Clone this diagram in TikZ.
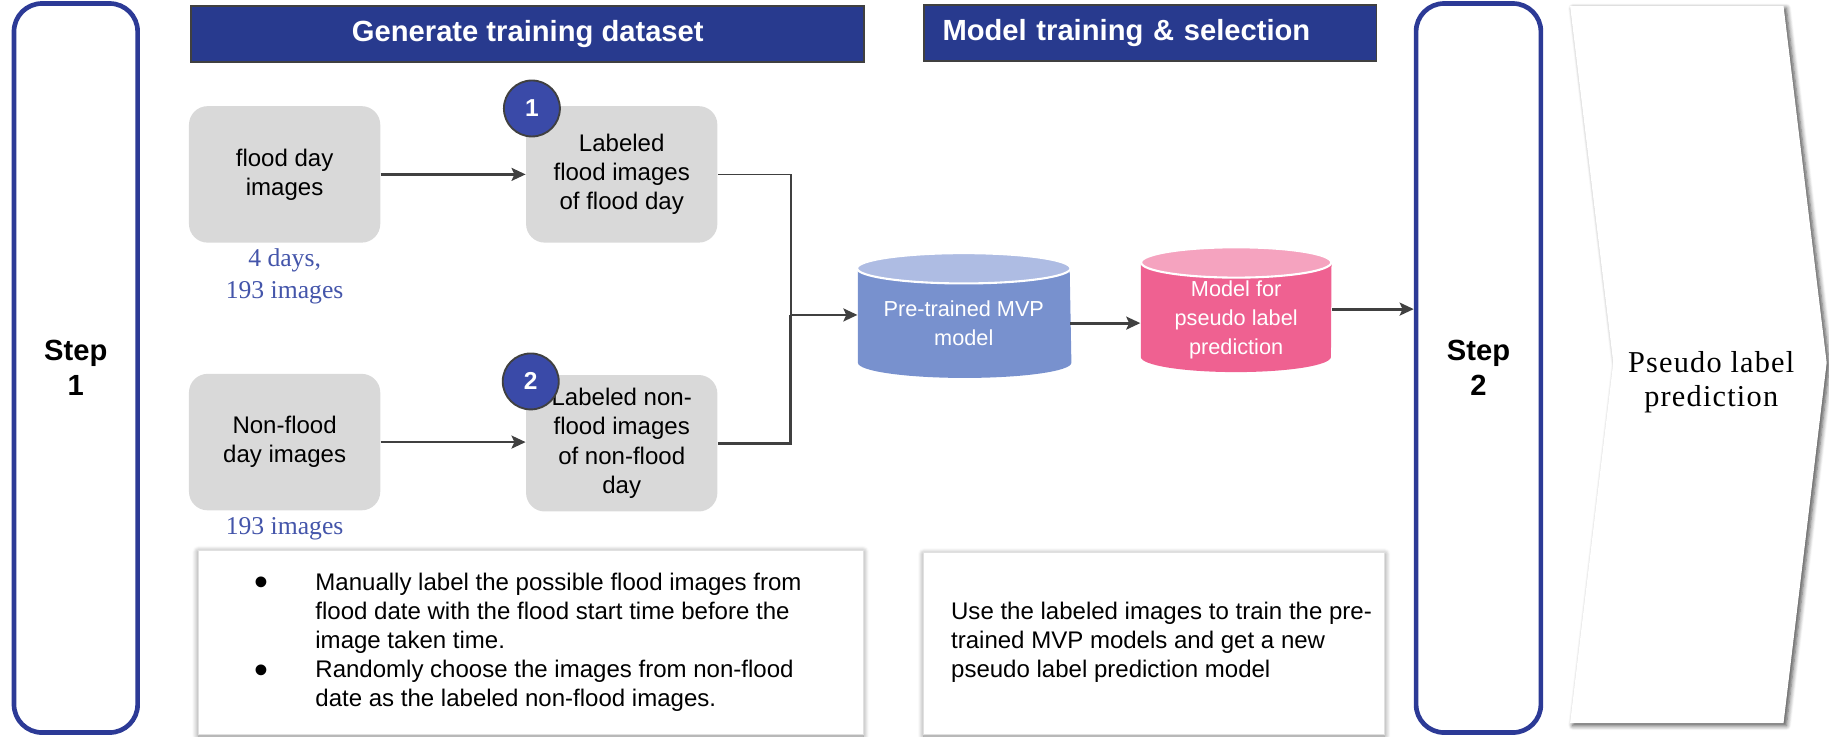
\documentclass[tikz,border=0pt]{standalone}
\usepackage{fontspec}
\setmainfont{Liberation Sans}
\newfontfamily\serifx{Liberation Serif}
\newfontfamily\spacedserif[LetterSpace=4]{Liberation Serif}
\usetikzlibrary{arrows.meta,shadows.blur,calc}
\definecolor{navy}{RGB}{40,58,142}
\definecolor{stepblue}{RGB}{44,58,150}
\definecolor{circblue}{RGB}{58,74,168}
\definecolor{boxgray}{RGB}{217,217,217}
\definecolor{arrgray}{RGB}{64,64,64}
\definecolor{txtblue}{RGB}{68,85,170}
\definecolor{cylbody}{RGB}{120,145,206}
\definecolor{cyltop}{RGB}{174,188,227}
\definecolor{pinkbody}{RGB}{239,97,145}
\definecolor{pinktop}{RGB}{245,163,191}
\newcommand{\bigbul}{\raisebox{-2.4pt}{\fontsize{17}{12}\selectfont\textbullet}}
\begin{document}
\begin{tikzpicture}[x=0.5pt,y=-0.5pt,
 stepbox/.style={draw=stepblue, line width=2pt, rounded corners=12pt, fill=white, minimum width=53pt, minimum height=312.5pt, font=\bfseries\fontsize{12.5}{15}\selectfont, align=center},
 header/.style={draw=arrgray, line width=0.8pt, fill=navy, text=white, font=\bfseries\fontsize{12.5}{15}\selectfont, minimum height=24pt},
 graybox/.style={fill=boxgray, rounded corners=8pt, minimum width=82pt, minimum height=58.5pt, align=center, font=\fontsize{10.3}{12.5}\selectfont, inner sep=2pt},
 numcirc/.style={circle, fill=circblue, draw=arrgray, line width=0.8pt, minimum size=24pt, inner sep=0pt, text=white, font=\bfseries\fontsize{10.5}{12}\selectfont},
 bluenote/.style={text=txtblue, font=\serifx\fontsize{11}{13.5}\selectfont, align=center},
 arr/.style={draw=arrgray, line width=1.2pt, -{Stealth[length=6pt,width=5.5pt,inset=1.2pt]}},
 conn/.style={draw=arrgray, line width=1.2pt},
 notebox/.style={fill=white, draw=black!12, line width=0.4pt, blur shadow={shadow xshift=0pt, shadow yshift=-0.5pt, shadow blur radius=2.5pt, shadow blur steps=8, shadow opacity=50}},
 notetext/.style={font=\fontsize{10.3}{12.5}\selectfont, inner sep=0pt},
 cyltext/.style={text=white, font=\fontsize{9.3}{12.5}\selectfont, align=center, inner sep=0pt},
]
\useasboundingbox (0,0) rectangle (1568,631);

% step boxes
\node[stepbox] (s1) at (65,315.5) {Step\\1};
\node[stepbox, minimum width=53.5pt] (s2) at (1267.5,315.5) {Step\\2};

% headers
\node[header, minimum width=288.5pt] (hg) at (452.5,29) {Generate training dataset};
\node[header, text width=178pt, inner xsep=8pt, align=left] (hm) at (986,28) {Model training \& selection};

% gray boxes
\node[graybox] (fd) at (244,149.5) {flood day\\images};
\node[graybox] (lf) at (533,149.5) {Labeled\\flood images\\of flood day};
\node[graybox] (nf) at (244,379) {Non-flood\\day images};
\node[graybox] (ln) at (533,380) {Labeled non-\\flood images\\of non-flood\\day};

\node[numcirc] (c1) at (456,93) {1};
\node[numcirc] (c2) at (455,327) {2};

\node[bluenote] (n1) at (244,237) {4 days,\\193 images};
\node[bluenote] (n2) at (244,453) {193 images};

% cylinders
\fill[cylbody] (735.5,230) -- (735.5,311) arc[start angle=180, end angle=360, x radius=45.75pt, y radius=6.5pt] -- (917,230) -- cycle;
\filldraw[fill=cyltop, draw=white, line width=0.9pt] (826.25,230) ellipse [x radius=45.75pt, y radius=6.5pt];
\fill[pinkbody] (978,225) -- (978,306) arc[start angle=180, end angle=360, x radius=40.75pt, y radius=6.5pt] -- (1141.5,225) -- cycle;
\filldraw[fill=pinktop, draw=white, line width=0.9pt] (1059.75,225) ellipse [x radius=40.75pt, y radius=6.5pt];

\node[cyltext, minimum width=90.75pt, minimum height=30pt] (pre) at (826.25,277) {Pre-trained MVP\\model};
\node[cyltext, minimum width=81.75pt, minimum height=36pt] (pink) at (1059.75,274) {Model for\\pseudo label\\prediction};

% connectors
\coordinate (j) at (678,270);
\draw[arr] (fd.east) -- (lf.west);
\draw[arr] (nf.east) -- (nf.east -| ln.west);
\draw[conn, line width=0.7pt] (lf.east) -| (j);
\draw[conn] (ln.east) -| (j);
\draw[arr] (j) -- (j -| pre.west);
\draw[arr] (pre.east) -- (pre.east -| pink.west);
\draw[arr] ([yshift=4.5pt]pink.east) -- ([yshift=4.5pt]pink.east -| s2.west);

% chevron
\fill[white, blur shadow={shadow xshift=1.2pt, shadow yshift=-1pt, shadow blur radius=2pt, shadow blur steps=6, shadow opacity=70}] (1346,5) -- (1529,5) -- (1566,311) -- (1529,620) -- (1346,620) -- (1383,311) -- cycle;
\node[align=center, font=\spacedserif\fontsize{13}{14.5}\selectfont] (pl) at (1467,328) {Pseudo label\\prediction};

% note boxes
\draw[notebox] (170,472) rectangle (740,630);
\draw[notebox] (792,474) rectangle (1187,630);
\node[notetext, anchor=base west] (bl) at (218,506) {\begin{tabular}[t]{@{}p{26pt}@{}l@{}}\bigbul & Manually label the possible flood images from\\ & flood date with the flood start time before the\\ & image taken time.\\ \bigbul & Randomly choose the images from non-flood\\ & date as the labeled non-flood images.\end{tabular}};
\node[notetext, anchor=base west] (rt) at (815,531) {\begin{tabular}[t]{@{}l@{}}Use the labeled images to train the pre-\\trained MVP models and get a new\\pseudo label prediction model\end{tabular}};
\end{tikzpicture}
\end{document}
